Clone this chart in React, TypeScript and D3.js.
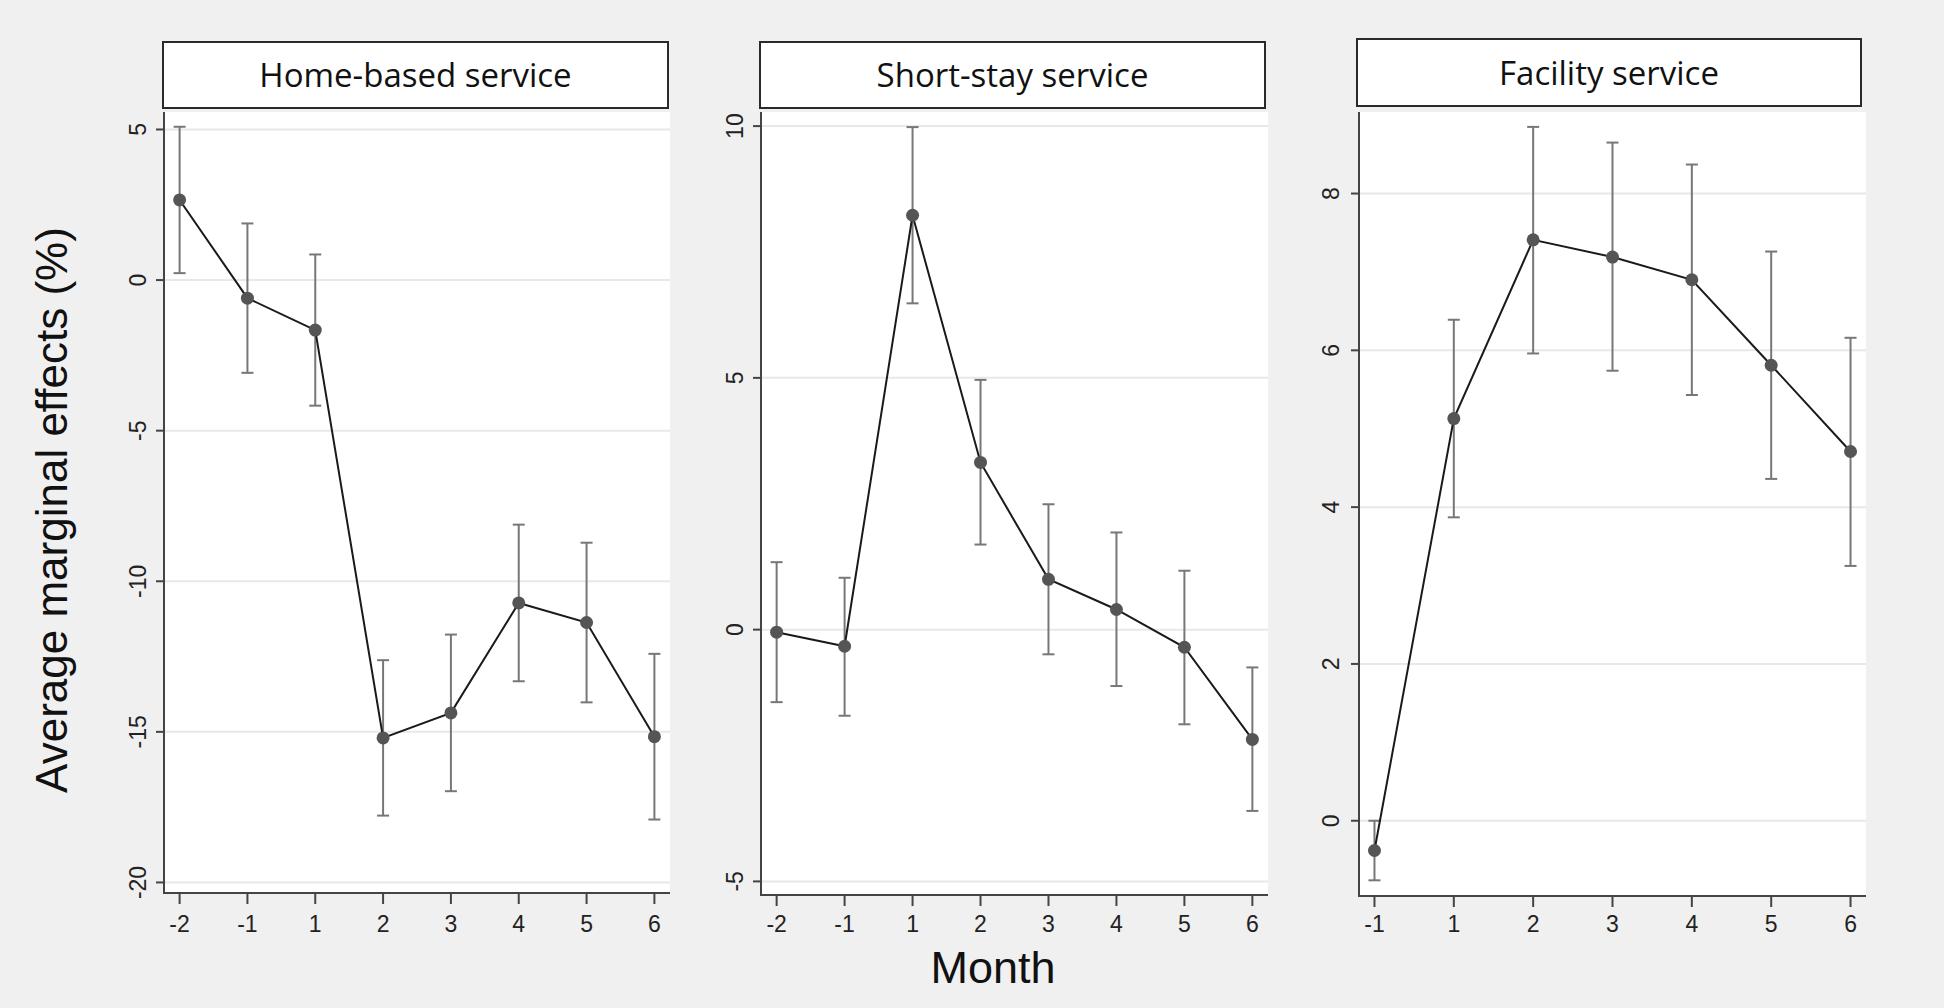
import React from "react";
import * as d3 from "d3";

// ---- data ----
const homeCats = ["-2", "-1", "1", "2", "3", "4", "5", "6"];
const homeEst = [2.66, -0.6, -1.66, -15.2, -14.37, -10.72, -11.37, -15.16];
const homeLo = [0.23, -3.08, -4.17, -17.78, -16.97, -13.32, -14.02, -17.91];
const homeHi = [5.09, 1.88, 0.85, -12.62, -11.77, -8.12, -8.72, -12.41];
const homeTicks = [5, 0, -5, -10, -15, -20];

const shortCats = ["-2", "-1", "1", "2", "3", "4", "5", "6"];
const shortEst = [-0.05, -0.33, 8.23, 3.32, 1.0, 0.4, -0.35, -2.18];
const shortLo = [-1.44, -1.71, 6.48, 1.69, -0.49, -1.12, -1.88, -3.6];
const shortHi = [1.34, 1.03, 9.98, 4.96, 2.49, 1.93, 1.17, -0.75];
const shortTicks = [10, 5, 0, -5];

const facCats = ["-1", "1", "2", "3", "4", "5", "6"];
const facEst = [-0.38, 5.13, 7.41, 7.19, 6.9, 5.81, 4.71];
const facLo = [-0.76, 3.87, 5.96, 5.74, 5.43, 4.36, 3.25];
const facHi = [0.0, 6.39, 8.85, 8.65, 8.37, 7.26, 6.16];
const facTicks = [0, 2, 4, 6, 8];

const panelTitles = ["Home-based service", "Short-stay service", "Facility service"];
const yTitle = "Average marginal effects (%)";
const xTitle = "Month";

type PanelSpec = {
  title: string;
  cats: string[];
  est: number[];
  lo: number[];
  hi: number[];
  ticks: number[];
  domain: [number, number];
  left: number;
  right: number;
  top: number;
  bottom: number;
  pad: number;
  hdr: { x0: number; x1: number; y0: number; y1: number };
  labelGap: number;
};

const panels: PanelSpec[] = [
  {
    title: panelTitles[0], cats: homeCats, est: homeEst, lo: homeLo, hi: homeHi, ticks: homeTicks,
    domain: [-20.35, 5.58], left: 164, right: 670, top: 112, bottom: 893, pad: 0.23,
    hdr: { x0: 163, x1: 668, y0: 42, y1: 108 }, labelGap: 18,
  },
  {
    title: panelTitles[1], cats: shortCats, est: shortEst, lo: shortLo, hi: shortHi, ticks: shortTicks,
    domain: [-5.27, 10.28], left: 761, right: 1268, top: 112, bottom: 895, pad: 0.23,
    hdr: { x0: 760, x1: 1265, y0: 42, y1: 108 }, labelGap: 18,
  },
  {
    title: panelTitles[2], cats: facCats, est: facEst, lo: facLo, hi: facHi, ticks: facTicks,
    domain: [-0.96, 9.04], left: 1359, right: 1866, top: 112, bottom: 896, pad: 0.195,
    hdr: { x0: 1357, x1: 1861, y0: 39, y1: 106 }, labelGap: 20,
  },
];

const TICK_FONT = "'Liberation Sans', Arial, sans-serif";
const HDR_FONT = "'Open Sans', 'Noto Sans', sans-serif";

function Panel({ p }: { p: PanelSpec }) {
  const x = d3.scalePoint<string>().domain(p.cats).range([p.left, p.right]).padding(p.pad);
  const y = d3.scaleLinear().domain(p.domain).range([p.bottom, p.top]);
  const line = d3
    .line<number>()
    .x((_, i) => x(p.cats[i]) as number)
    .y((d) => y(d));
  const cap = 6;
  return (
    <g>
      {/* header */}
      <rect
        x={p.hdr.x0}
        y={p.hdr.y0}
        width={p.hdr.x1 - p.hdr.x0}
        height={p.hdr.y1 - p.hdr.y0}
        fill="#ffffff"
        stroke="#2a2a2a"
        strokeWidth={2}
      />
      <text
        x={(p.hdr.x0 + p.hdr.x1) / 2}
        y={(p.hdr.y0 + p.hdr.y1) / 2 + 12}
        textAnchor="middle"
        fontFamily={HDR_FONT}
        fontSize={33}
        fill="#111"
      >
        {p.title}
      </text>
      {/* plot area */}
      <rect x={p.left} y={p.top} width={p.right - p.left} height={p.bottom - p.top} fill="#ffffff" />
      {/* grid */}
      {p.ticks.map((t) => (
        <line key={"g" + t} x1={p.left} x2={p.right} y1={y(t)} y2={y(t)} stroke="#e8e8e8" strokeWidth={2} />
      ))}
      {/* error bars */}
      {p.cats.map((c, i) => {
        const cx = x(c) as number;
        return (
          <g key={"e" + c} stroke="#777777" strokeWidth={2}>
            <line x1={cx} x2={cx} y1={y(p.lo[i])} y2={y(p.hi[i])} />
            <line x1={cx - cap} x2={cx + cap} y1={y(p.lo[i])} y2={y(p.lo[i])} />
            <line x1={cx - cap} x2={cx + cap} y1={y(p.hi[i])} y2={y(p.hi[i])} />
          </g>
        );
      })}
      {/* line */}
      <path d={line(p.est) || ""} fill="none" stroke="#1a1a1a" strokeWidth={2} />
      {/* points */}
      {p.cats.map((c, i) => (
        <circle key={"p" + c} cx={x(c) as number} cy={y(p.est[i])} r={6.5} fill="#555555" />
      ))}
      {/* axes */}
      <line x1={p.left} x2={p.left} y1={p.top} y2={p.bottom + 1} stroke="#444" strokeWidth={2} />
      <line x1={p.left - 1} x2={p.right} y1={p.bottom} y2={p.bottom} stroke="#444" strokeWidth={2} />
      {p.ticks.map((t) => (
        <g key={"yt" + t}>
          <line x1={p.left - 8} x2={p.left} y1={y(t)} y2={y(t)} stroke="#444" strokeWidth={2} />
          <text
            transform={`translate(${p.left - p.labelGap},${y(t)}) rotate(-90)`}
            textAnchor="middle"
            fontFamily={TICK_FONT}
            fontSize={23}
            fill="#222"
          >
            {String(t)}
          </text>
        </g>
      ))}
      {p.cats.map((c) => {
        const cx = x(c) as number;
        return (
          <g key={"xt" + c}>
            <line x1={cx} x2={cx} y1={p.bottom} y2={p.bottom + 11} stroke="#444" strokeWidth={2} />
            <text x={cx} y={932} textAnchor="middle" fontFamily={TICK_FONT} fontSize={23} fill="#222">
              {c}
            </text>
          </g>
        );
      })}
    </g>
  );
}

export default function App() {
  return (
    <svg
      width={1944}
      height={1008}
      style={{ position: "absolute", left: 0, top: 0, display: "block" }}
      xmlns="http://www.w3.org/2000/svg"
    >
      <rect x={0} y={0} width={1944} height={1008} fill="#f0f0f0" />
      {panels.map((p) => (
        <Panel key={p.title} p={p} />
      ))}
      <text
        transform={`translate(67,510) rotate(-90)`}
        textAnchor="middle"
        fontFamily={TICK_FONT}
        fontSize={44}
        fill="#111"
      >
        {yTitle}
      </text>
      <text x={993} y={983} textAnchor="middle" fontFamily={TICK_FONT} fontSize={45} fill="#111">
        {xTitle}
      </text>
    </svg>
  );
}
